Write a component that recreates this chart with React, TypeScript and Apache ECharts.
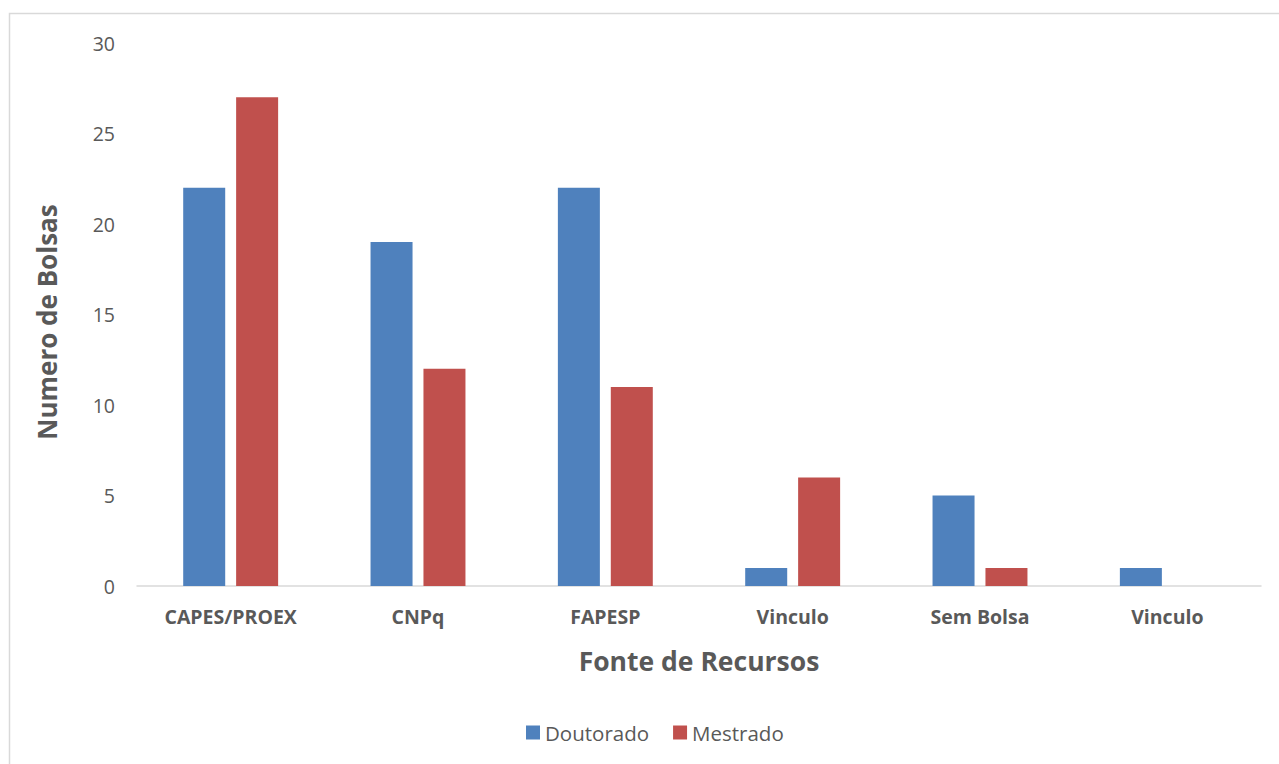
import React, { useEffect, useRef } from "react";
import * as echarts from "echarts";

const categories = ["CAPES/PROEX", "CNPq", "FAPESP", "Vinculo", "Sem Bolsa", "Vinculo"];
const doutorado = [22, 19, 22, 1, 5, 1];
const mestrado = [27, 12, 11, 6, 1, 0];
const yTicks = { min: 0, max: 30, interval: 5 };

const FONT = "Open Sans";
const GREY = "#595959";

export default function App() {
  const ref = useRef<HTMLDivElement>(null);
  useEffect(() => {
    if (!ref.current) return;
    const chart = echarts.init(ref.current, undefined, { renderer: "svg" });
    chart.setOption({
      animation: false,
      backgroundColor: "#ffffff",
      textStyle: { fontFamily: FONT },
      grid: { left: 137, right: 18, top: 43, bottom: 178, containLabel: false },
      legend: {
        left: 521,
        top: 717,
        itemWidth: 14,
        itemHeight: 14,
        itemGap: 24,
        itemStyle: { borderWidth: 0 },
        icon: "rect",
        textStyle: { fontFamily: FONT, fontSize: 20.5, color: GREY },
        data: ["Doutorado", "Mestrado"],
      },
      xAxis: {
        type: "category",
        data: categories,
        axisLine: { show: true, lineStyle: { color: "#d9d9d9", width: 1.5 } },
        axisTick: { show: false },
        axisLabel: {
          interval: 0,
          margin: 20,
          fontFamily: FONT,
          fontSize: 19.5,
          fontWeight: "bold",
          color: GREY,
        },
      },
      yAxis: {
        type: "value",
        min: yTicks.min,
        max: yTicks.max,
        interval: yTicks.interval,
        splitLine: { show: false },
        axisLine: { show: false },
        axisTick: { show: false },
        axisLabel: { margin: 22, fontFamily: FONT, fontSize: 19.5, color: GREY },
      },
      series: [
        {
          name: "Doutorado",
          type: "bar",
          data: doutorado,
          barWidth: 42,
          barGap: "26%",
          itemStyle: { color: "#4f81bd" },
        },
        {
          name: "Mestrado",
          type: "bar",
          data: mestrado,
          barWidth: 42,
          itemStyle: { color: "#c0504d" },
        },
      ],
      graphic: [
        {
          type: "rect",
          shape: { x: 9.5, y: 13.5, width: 1400, height: 900 },
          style: { fill: "none", stroke: "#d9d9d9", lineWidth: 1.5 },
          silent: true,
          z: -1,
        },
        {
          type: "text",
          x: 699,
          y: 661,
          style: {
            text: "Fonte de Recursos",
            fontFamily: FONT,
            fontSize: 26.5,
            fontWeight: "bold",
            fill: GREY,
            align: "center",
            verticalAlign: "middle",
          },
        },
        {
          type: "text",
          x: 47,
          y: 322,
          rotation: Math.PI / 2,
          style: {
            text: "Numero de Bolsas",
            fontFamily: FONT,
            fontSize: 26,
            fontWeight: "bold",
            fill: GREY,
            align: "center",
            verticalAlign: "middle",
          },
        },
      ],
    });
    return () => chart.dispose();
  }, []);
  return (
    <div
      ref={ref}
      style={{ position: "absolute", left: 0, top: 0, width: 1279, height: 764 }}
    />
  );
}
